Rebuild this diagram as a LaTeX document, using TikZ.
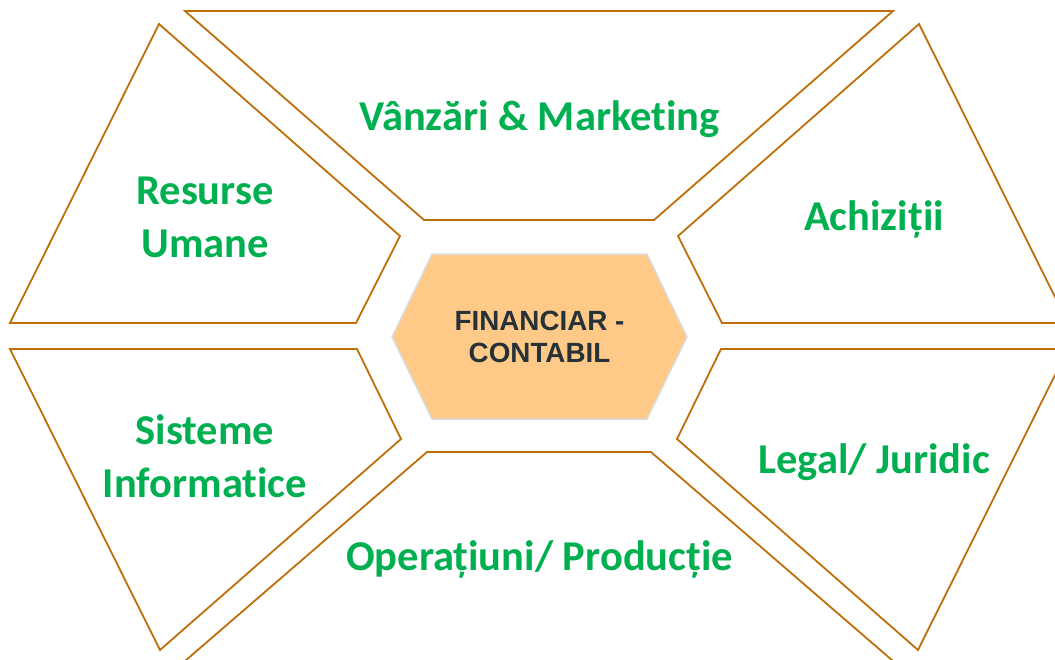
\documentclass[tikz,border=0pt]{standalone}
\usepackage{fontspec}
\setmainfont[Ligatures=NoCommon]{Carlito}
\newfontfamily\arialfont{Liberation Sans}
\definecolor{edgeorange}{HTML}{BF6F0A}
\definecolor{labelgreen}{HTML}{00B050}
\definecolor{hexfill}{HTML}{FFCA88}
\definecolor{hexedge}{HTML}{D9DDE0}
\definecolor{darktext}{HTML}{263238}
\tikzset{
  panel/.style={draw=edgeorange, line width=1.8pt, line join=miter, fill=white},
  lbl/.style={text=labelgreen, font=\fontsize{42.5}{53}\selectfont\bfseries, anchor=base, align=center, inner sep=0pt},
  hexshape/.style={draw=hexedge, line width=1.5pt, fill=hexfill},
  centertext/.style={text=darktext, font=\arialfont\fontsize{27.8}{32}\selectfont\bfseries, align=center, inner sep=0pt}
}
\begin{document}
\begin{tikzpicture}[x=1pt,y=-1pt]
\useasboundingbox (0,0) rectangle (1055,659);
\clip (0,0) rectangle (1055,659);
% panels
\draw[panel] (185,11) -- (893,11) -- (654,220) -- (424,220) -- cycle;
\draw[panel] (159,24) -- (400,236) -- (356,323) -- (10,323) -- cycle;
\draw[panel] (919,24) -- (678,236) -- (722,323) -- (1068,323) -- cycle;
\draw[panel] (10,349) -- (357,349) -- (401,439) -- (160,650) -- cycle;
\draw[panel] (1068,349) -- (721,349) -- (677,439) -- (918,650) -- cycle;
\draw[panel] (427,452) -- (651,452) -- (893,661) -- (185,661) -- cycle;
% center hexagon
\draw[hexshape] (392,337) -- (432,254) -- (647,254) -- (687,337) -- (647,419) -- (432,419) -- cycle;
\node[centertext] (fin) at (539.5,337) {FINANCIAR -\\CONTABIL};
% labels
\node[lbl] (vanz) at (539.5,130) {Vânzări \& Marketing};
\node[lbl] (res) at (205,257) {Resurse\\Umane};
\node[lbl] (ach) at (874,230) {Achiziții};
\node[lbl] (sis) at (205,497) {Sisteme\\Informatice};
\node[lbl] (leg) at (874,473) {Legal/ Juridic};
\node[lbl] (ops) at (539.5,570) {Operațiuni/ Producție};
\end{tikzpicture}
\end{document}
